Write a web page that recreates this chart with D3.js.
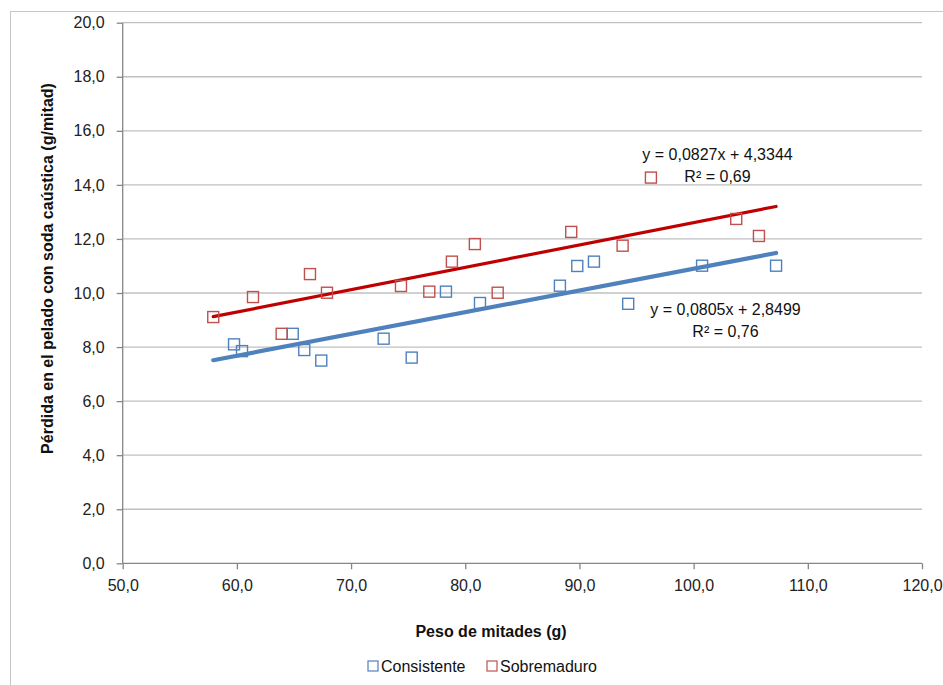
<!DOCTYPE html>
<html>
<head>
<meta charset="utf-8">
<script src="https://cdn.jsdelivr.net/npm/d3@7/dist/d3.min.js"></script>
<style>
  html, body { margin: 0; padding: 0; background: #fff; }
  svg { display: block; font-family: "Liberation Sans", Arial, sans-serif; }
</style>
</head>
<body>
<svg id="chart" width="943" height="685"></svg>
<script>
// ---- Data ----
const consistenteX = [59.75, 60.45, 64.89, 65.90, 67.39, 72.85, 75.31, 78.31, 81.29, 88.29, 89.81, 91.27, 94.27, 100.74, 107.22];
const consistenteY = [8.10, 7.85, 8.49, 7.89, 7.50, 8.31, 7.61, 10.05, 9.63, 10.27, 11.00, 11.16, 9.60, 11.01, 11.01];
const sobremaduroX = [57.93, 61.41, 63.92, 66.40, 67.89, 74.37, 76.85, 78.83, 80.84, 82.84, 89.28, 93.78, 96.26, 103.73, 105.72];
const sobremaduroY = [9.11, 9.85, 8.49, 10.70, 10.01, 10.26, 10.05, 11.16, 11.81, 10.01, 12.26, 11.75, 14.27, 12.74, 12.11];
const seriesNames = ["Consistente", "Sobremaduro"];
const trendSlopes = [0.0805, 0.0827];
const trendIntercepts = [2.8499, 4.3344];
const trendLabels = ["y = 0,0805x + 2,8499", "y = 0,0827x + 4,3344"];
const r2Labels = ["R² = 0,76", "R² = 0,69"];
const xTicks = [50, 60, 70, 80, 90, 100, 110, 120];
const yTicks = [0, 2, 4, 6, 8, 10, 12, 14, 16, 18, 20];
const xTitle = "Peso de mitades (g)";
const yTitle = "Pérdida en el pelado con soda caústica (g/mitad)";

// ---- Layout ----
const markerColors = ["#4f81bd", "#c0504d"];
const lineColors = ["#4f81bd", "#c00000"];
const lineWidths = [4.2, 3.2];
const pLeft = 122.7, pRight = 922, pTop = 22.7, pBottom = 563.3;

const svg = d3.select("#chart");
const x = d3.scaleLinear().domain([50, 120]).range([pLeft, pRight]);
const y = d3.scaleLinear().domain([0, 20]).range([pBottom, pTop]);
const fmt = v => d3.format(".1f")(v).replace(".", ",");

// outer border
svg.append("rect").attr("x", 10.5).attr("y", 11.5).attr("width", 940).attr("height", 700)
  .attr("fill", "none").attr("stroke", "#c6c6c6").attr("stroke-width", 1);

// gridlines
svg.append("g").selectAll("line").data(yTicks.filter(d => d > 0)).join("line")
  .attr("x1", pLeft).attr("x2", pRight)
  .attr("y1", d => y(d)).attr("y2", d => y(d))
  .attr("stroke", "#c0c0c0").attr("stroke-width", 1.3);

// axes
const yAxis = d3.axisLeft(y).tickValues(yTicks).tickFormat(fmt).tickSize(6).tickPadding(12);
const gy = svg.append("g").attr("transform", `translate(${pLeft},0)`).call(yAxis);
const xAxis = d3.axisBottom(x).tickValues(xTicks).tickFormat(fmt).tickSize(6).tickPadding(10);
const gx = svg.append("g").attr("transform", `translate(0,${pBottom})`).call(xAxis);
[gx, gy].forEach(g => {
  g.select(".domain").attr("stroke", "#868686").attr("stroke-width", 1.3);
  g.selectAll(".tick line").attr("stroke", "#868686").attr("stroke-width", 1.3);
  g.selectAll(".tick text").attr("fill", "#222").style("font-size", "16px")
    .style("font-family", '"Liberation Sans", Arial, sans-serif');
});
gx.select(".domain").attr("d", `M${pLeft},0H${pRight}`);
gy.select(".domain").attr("d", `M0,${pBottom}V${pTop}`);

// trendlines
const allX = consistenteX.concat(sobremaduroX);
const [xmin, xmax] = d3.extent(allX);
const series = [
  { xs: consistenteX, ys: consistenteY },
  { xs: sobremaduroX, ys: sobremaduroY }
];
const line = d3.line().x(d => x(d[0])).y(d => y(d[1]));
series.forEach((s, i) => {
  const pts = [xmin, xmax].map(v => [v, trendSlopes[i] * v + trendIntercepts[i]]);
  svg.append("path").attr("d", line(pts)).attr("fill", "none")
    .attr("stroke", lineColors[i]).attr("stroke-width", lineWidths[i]).attr("stroke-linecap", "round");
});

// markers
const ms = 11;
series.forEach((s, i) => {
  svg.append("g").selectAll("rect").data(s.xs.map((v, k) => [v, s.ys[k]])).join("rect")
    .attr("x", d => x(d[0]) - ms / 2).attr("y", d => y(d[1]) - ms / 2)
    .attr("width", ms).attr("height", ms)
    .attr("fill", "none").attr("stroke", markerColors[i]).attr("stroke-width", 1.4);
});

// equation labels
const eqPos = [[725.5, 314.5], [717.5, 160]];
eqPos.forEach((p, i) => {
  const t = svg.append("text").attr("text-anchor", "middle").attr("fill", "#111").style("font-size", "16px");
  t.append("tspan").attr("x", p[0]).attr("y", p[1]).text(trendLabels[i]);
  t.append("tspan").attr("x", p[0]).attr("y", p[1] + 22).text(r2Labels[i]);
});

// axis titles
svg.append("text").attr("x", 491).attr("y", 637).attr("text-anchor", "middle")
  .style("font-size", "16px").style("font-weight", "bold").attr("fill", "#111").text(xTitle);
svg.append("text").attr("transform", "translate(53,268.5) rotate(-90)").attr("text-anchor", "middle")
  .style("font-size", "16px").style("font-weight", "bold").attr("fill", "#111").text(yTitle);

// legend
const legX = [368, 487];
seriesNames.forEach((n, i) => {
  svg.append("rect").attr("x", legX[i]).attr("y", 661).attr("width", 10).attr("height", 10)
    .attr("fill", "none").attr("stroke", markerColors[i]).attr("stroke-width", 1.2);
  svg.append("text").attr("x", legX[i] + 13).attr("y", 672).style("font-size", "16px")
    .attr("fill", "#111").text(n);
});
</script>
</body>
</html>
